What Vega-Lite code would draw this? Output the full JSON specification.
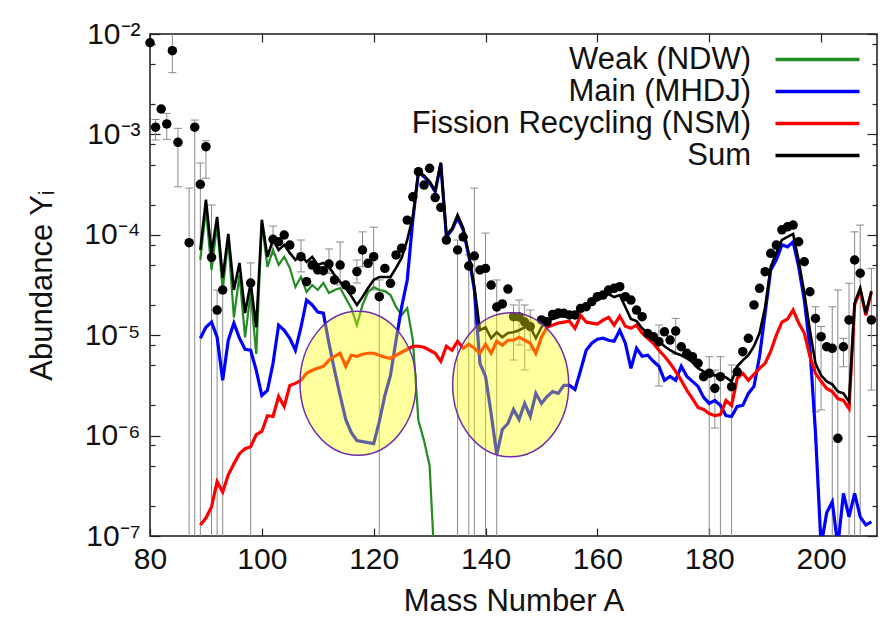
{
  "$schema": "https://vega.github.io/schema/vega-lite/v6.json",
  "width": 727,
  "height": 502,
  "autosize": {"type": "none"},
  "padding": {"left": 150, "top": 34, "right": 9, "bottom": 87},
  "background": "white",
  "config": {
    "font": "Liberation Sans",
    "view": {"stroke": "#1a1a1a", "strokeWidth": 1.5},
    "axis": {"domain": false, "grid": false, "labelFont": "Liberation Sans", "labelFontSize": 30, "labelColor": "#111111", "titleFont": "Liberation Sans", "titleFontSize": 31, "titleFontWeight": "normal", "titleColor": "#111111", "tickColor": "#222222", "tickWidth": 1.2, "labelOverlap": false, "labelFlush": false, "labelBound": false}
  },
  "datasets": {
    "curves": [
      {"A":89,"weak":5.62e-5,"main":9.33e-6,"fission":1.29e-7,"sum":7.08e-5},
      {"A":90,"weak":1.78e-4,"main":1.20e-5,"fission":1.51e-7,"sum":2.24e-4},
      {"A":91,"weak":4.47e-5,"main":1.35e-5,"fission":1.95e-7,"sum":6.61e-5},
      {"A":92,"weak":1.26e-4,"main":9.55e-6,"fission":3.47e-7,"sum":1.51e-4},
      {"A":93,"weak":2.82e-5,"main":3.55e-6,"fission":2.75e-7,"sum":3.72e-5},
      {"A":94,"weak":8.91e-5,"main":8.91e-6,"fission":4.07e-7,"sum":1.02e-4},
      {"A":95,"weak":1.5e-5,"main":1.32e-5,"fission":5.25e-7,"sum":2.82e-5},
      {"A":96,"weak":3.98e-5,"main":9.33e-6,"fission":6.61e-7,"sum":5.25e-5},
      {"A":97,"weak":9.5e-6,"main":7.24e-6,"fission":7.41e-7,"sum":1.66e-5},
      {"A":98,"weak":2.63e-5,"main":7.08e-6,"fission":7.76e-7,"sum":3.31e-5},
      {"A":99,"weak":6.5e-6,"main":4.47e-6,"fission":1.02e-6,"sum":1.20e-5},
      {"A":100,"weak":1.3e-4,"main":2.51e-6,"fission":1.10e-6,"sum":1.41e-4},
      {"A":101,"weak":4.8e-5,"main":2.82e-6,"fission":1.58e-6,"sum":6.03e-5},
      {"A":102,"weak":7.08e-5,"main":5.25e-6,"fission":1.55e-6,"sum":8.91e-5},
      {"A":103,"weak":5.01e-5,"main":1.26e-5,"fission":2.45e-6,"sum":7.08e-5},
      {"A":104,"weak":6.03e-5,"main":1.12e-5,"fission":1.95e-6,"sum":7.94e-5},
      {"A":105,"weak":4.68e-5,"main":9.33e-6,"fission":3.16e-6,"sum":6.61e-5},
      {"A":106,"weak":3.02e-5,"main":7.08e-6,"fission":3.31e-6,"sum":5.62e-5},
      {"A":107,"weak":3.80e-5,"main":1.20e-5,"fission":3.55e-6,"sum":6.31e-5},
      {"A":108,"weak":2.69e-5,"main":2.24e-5,"fission":4.17e-6,"sum":5.37e-5},
      {"A":109,"weak":3.16e-5,"main":2.00e-5,"fission":4.47e-6,"sum":6.03e-5},
      {"A":110,"weak":2.82e-5,"main":1.70e-5,"fission":4.68e-6,"sum":5.01e-5},
      {"A":111,"weak":3.31e-5,"main":1.66e-5,"fission":4.90e-6,"sum":5.25e-5},
      {"A":112,"weak":2.63e-5,"main":8.32e-6,"fission":5.62e-6,"sum":4.79e-5},
      {"A":113,"weak":2.82e-5,"main":4.47e-6,"fission":6.17e-6,"sum":3.98e-5},
      {"A":114,"weak":2.95e-5,"main":2.51e-6,"fission":6.61e-6,"sum":3.39e-5},
      {"A":115,"weak":2.34e-5,"main":1.45e-6,"fission":4.90e-6,"sum":2.95e-5},
      {"A":116,"weak":1.86e-5,"main":1.07e-6,"fission":6.31e-6,"sum":2.45e-5},
      {"A":117,"weak":1.26e-5,"main":8.91e-7,"fission":6.17e-6,"sum":2.00e-5},
      {"A":118,"weak":2.00e-5,"main":8.71e-7,"fission":6.46e-6,"sum":2.40e-5},
      {"A":119,"weak":2.69e-5,"main":8.51e-7,"fission":6.61e-6,"sum":2.95e-5},
      {"A":120,"weak":3.02e-5,"main":8.32e-7,"fission":6.61e-6,"sum":3.55e-5},
      {"A":121,"weak":2.82e-5,"main":1.38e-6,"fission":6.31e-6,"sum":3.80e-5},
      {"A":122,"weak":2.75e-5,"main":2.51e-6,"fission":6.03e-6,"sum":3.80e-5},
      {"A":123,"weak":2.51e-5,"main":3.98e-6,"fission":5.89e-6,"sum":3.80e-5},
      {"A":124,"weak":1.91e-5,"main":8.91e-6,"fission":6.31e-6,"sum":4.68e-5},
      {"A":125,"weak":1.58e-5,"main":1.91e-5,"fission":6.76e-6,"sum":5.89e-5},
      {"A":126,"weak":1.86e-5,"main":3.55e-5,"fission":7.24e-6,"sum":8.91e-5},
      {"A":127,"weak":8.91e-6,"main":1.41e-4,"fission":7.76e-6,"sum":1.51e-4},
      {"A":128,"weak":1.41e-6,"main":4.17e-4,"fission":7.76e-6,"sum":4.27e-4},
      {"A":129,"weak":8.91e-7,"main":3.80e-4,"fission":7.59e-6,"sum":3.89e-4},
      {"A":130,"weak":5.01e-7,"main":3.31e-4,"fission":7.08e-6,"sum":3.39e-4},
      {"A":131,"weak":3.98e-8,"main":2.69e-4,"fission":6.61e-6,"sum":2.75e-4},
      {"A":132,"main":5.13e-4,"fission":5.50e-6,"sum":5.25e-4},
      {"A":133,"main":9.55e-5,"fission":7.76e-6,"sum":1.00e-4},
      {"A":134,"main":1.12e-4,"fission":7.08e-6,"sum":1.15e-4},
      {"A":135,"main":1.48e-4,"fission":8.71e-6,"sum":1.58e-4},
      {"A":136,"main":1.12e-4,"fission":7.41e-6,"sum":1.17e-4},
      {"A":137,"main":6.17e-5,"fission":8.13e-6,"sum":6.46e-5},
      {"A":138,"main":2.82e-5,"fission":7.41e-6,"sum":3.02e-5},
      {"A":139,"main":5.25e-6,"fission":6.61e-6,"sum":1.12e-5},
      {"A":140,"main":3.89e-6,"fission":8.13e-6,"sum":1.20e-5},
      {"A":141,"main":1.66e-6,"fission":6.61e-6,"sum":9.33e-6},
      {"A":142,"main":6.46e-7,"fission":8.71e-6,"sum":1.07e-5},
      {"A":143,"main":1.15e-6,"fission":7.94e-6,"sum":9.55e-6},
      {"A":144,"main":1.32e-6,"fission":8.91e-6,"sum":1.05e-5},
      {"A":145,"main":1.82e-6,"fission":8.91e-6,"sum":1.07e-5},
      {"A":146,"main":1.45e-6,"fission":9.55e-6,"sum":1.12e-5},
      {"A":147,"main":2.09e-6,"fission":8.91e-6,"sum":1.20e-5},
      {"A":148,"main":1.55e-6,"fission":8.32e-6,"sum":1.20e-5},
      {"A":149,"main":2.63e-6,"fission":6.61e-6,"sum":9.33e-6},
      {"A":150,"main":2.09e-6,"fission":9.55e-6,"sum":1.20e-5},
      {"A":151,"main":2.45e-6,"fission":1.20e-5,"sum":1.41e-5},
      {"A":152,"main":2.75e-6,"fission":1.26e-5,"sum":1.45e-5},
      {"A":153,"main":2.63e-6,"fission":1.32e-5,"sum":1.51e-5},
      {"A":154,"main":3.16e-6,"fission":1.35e-5,"sum":1.58e-5},
      {"A":155,"main":3.16e-6,"fission":1.38e-5,"sum":1.58e-5},
      {"A":156,"main":2.88e-6,"fission":1.17e-5,"sum":1.66e-5},
      {"A":157,"main":4.47e-6,"fission":1.58e-5,"sum":1.82e-5},
      {"A":158,"main":7.08e-6,"fission":1.35e-5,"sum":1.95e-5},
      {"A":159,"main":8.32e-6,"fission":1.32e-5,"sum":2.14e-5},
      {"A":160,"main":9.12e-6,"fission":1.29e-5,"sum":2.24e-5},
      {"A":161,"main":9.33e-6,"fission":1.41e-5,"sum":2.40e-5},
      {"A":162,"main":8.91e-6,"fission":1.51e-5,"sum":2.57e-5},
      {"A":163,"main":8.71e-6,"fission":1.26e-5,"sum":2.40e-5},
      {"A":164,"main":1.12e-5,"fission":1.55e-5,"sum":2.51e-5},
      {"A":165,"main":8.32e-6,"fission":1.23e-5,"sum":1.91e-5},
      {"A":166,"main":4.68e-6,"fission":1.17e-5,"sum":1.45e-5},
      {"A":167,"main":7.41e-6,"fission":1.26e-5,"sum":1.38e-5},
      {"A":168,"main":6.17e-6,"fission":1.05e-5,"sum":1.17e-5},
      {"A":169,"main":6.31e-6,"fission":9.33e-6,"sum":1.05e-5},
      {"A":170,"main":5.50e-6,"fission":8.32e-6,"sum":9.77e-6},
      {"A":171,"main":4.90e-6,"fission":7.08e-6,"sum":8.71e-6},
      {"A":172,"main":3.55e-6,"fission":6.17e-6,"sum":7.76e-6},
      {"A":173,"main":3.89e-6,"fission":5.25e-6,"sum":7.08e-6},
      {"A":174,"main":3.55e-6,"fission":4.37e-6,"sum":6.61e-6},
      {"A":175,"main":4.90e-6,"fission":3.55e-6,"sum":6.31e-6},
      {"A":176,"main":3.89e-6,"fission":2.82e-6,"sum":5.89e-6},
      {"A":177,"main":3.47e-6,"fission":2.34e-6,"sum":5.37e-6},
      {"A":178,"main":3.09e-6,"fission":1.91e-6,"sum":4.68e-6},
      {"A":179,"main":2.40e-6,"fission":1.82e-6,"sum":4.37e-6},
      {"A":180,"main":2.09e-6,"fission":1.66e-6,"sum":4.07e-6},
      {"A":181,"main":2.24e-6,"fission":1.58e-6,"sum":3.98e-6},
      {"A":182,"main":2.00e-6,"fission":1.62e-6,"sum":3.98e-6},
      {"A":183,"main":1.58e-6,"fission":2.24e-6,"sum":3.80e-6},
      {"A":184,"main":1.55e-6,"fission":2.00e-6,"sum":3.47e-6},
      {"A":185,"main":1.95e-6,"fission":3.72e-6,"sum":4.90e-6},
      {"A":186,"main":2.00e-6,"fission":4.17e-6,"sum":5.62e-6},
      {"A":187,"main":2.63e-6,"fission":3.55e-6,"sum":6.31e-6},
      {"A":188,"main":3.09e-6,"fission":4.07e-6,"sum":7.76e-6},
      {"A":189,"main":6.17e-6,"fission":4.68e-6,"sum":1.05e-5},
      {"A":190,"main":1.66e-5,"fission":5.25e-6,"sum":1.91e-5},
      {"A":191,"main":4.47e-5,"fission":6.92e-6,"sum":4.79e-5},
      {"A":192,"main":5.62e-5,"fission":1.00e-5,"sum":6.61e-5},
      {"A":193,"main":7.94e-5,"fission":1.35e-5,"sum":8.91e-5},
      {"A":194,"main":7.59e-5,"fission":1.45e-5,"sum":9.55e-5},
      {"A":195,"main":8.51e-5,"fission":1.78e-5,"sum":1.02e-4},
      {"A":196,"main":4.79e-5,"fission":1.32e-5,"sum":5.50e-5},
      {"A":197,"main":2.24e-5,"fission":1.05e-5,"sum":2.63e-5},
      {"A":198,"main":7.5e-6,"fission":6.17e-6,"sum":1.12e-5},
      {"A":199,"main":1.07e-6,"fission":4.17e-6,"sum":5.25e-6},
      {"A":200,"main":7.94e-8,"fission":3.47e-6,"sum":3.98e-6},
      {"A":201,"main":1.70e-7,"fission":2.95e-6,"sum":3.47e-6},
      {"A":202,"main":2.19e-7,"fission":2.75e-6,"sum":3.24e-6},
      {"A":203,"main":7.94e-8,"fission":2.34e-6,"sum":2.75e-6},
      {"A":204,"main":2.66e-7,"fission":2.24e-6,"sum":2.63e-6},
      {"A":205,"main":1.55e-7,"fission":1.86e-6,"sum":2.19e-6},
      {"A":206,"main":2.66e-7,"fission":2.00e-5,"sum":2.09e-5},
      {"A":207,"main":1.55e-7,"fission":2.82e-5,"sum":2.95e-5},
      {"A":208,"main":1.29e-7,"fission":1.58e-5,"sum":1.66e-5},
      {"A":209,"main":1.38e-7,"fission":2.69e-5,"sum":2.75e-5}
    ],
    "dots": [
      {"A":80,"Y":8.18e-3},
      {"A":81,"Y":1.18e-3,"lo":8.79e-4,"hi":1.41e-3},
      {"A":82,"Y":1.79e-3},
      {"A":83,"Y":1.27e-3,"lo":8.93e-4,"hi":1.62e-3},
      {"A":84,"Y":6.82e-3,"lo":4.12e-3,"hi":1.02e-2},
      {"A":85,"Y":8.34e-4,"lo":3.01e-4,"hi":1.15e-3},
      {"A":87,"Y":8.34e-5,"lo":1e-8,"hi":2.92e-4},
      {"A":88,"Y":1.18e-3,"lo":1e-8,"hi":1.39e-3},
      {"A":89,"Y":3.18e-4,"lo":1e-8,"hi":5.19e-4},
      {"A":90,"Y":7.55e-4,"lo":3.66e-4,"hi":8.65e-4},
      {"A":91,"Y":5.97e-5,"lo":1e-8,"hi":1.98e-4},
      {"A":92,"Y":1.78e-5,"lo":1e-8,"hi":2.82e-5},
      {"A":93,"Y":2.82e-5,"lo":1e-8,"hi":4.47e-5},
      {"A":98,"Y":3.31e-5,"lo":1e-8,"hi":5.25e-5},
      {"A":102,"Y":9.02e-5,"lo":6.30e-5,"hi":1.22e-4},
      {"A":103,"Y":8.53e-5},
      {"A":104,"Y":9.95e-5},
      {"A":105,"Y":7.91e-5},
      {"A":107,"Y":6.05e-5,"lo":4.27e-5,"hi":8.87e-5},
      {"A":108,"Y":3.41e-5},
      {"A":109,"Y":5.00e-5},
      {"A":110,"Y":4.46e-5},
      {"A":111,"Y":4.39e-5},
      {"A":112,"Y":5.12e-5,"lo":4.13e-5,"hi":7.23e-5},
      {"A":113,"Y":3.55e-5},
      {"A":114,"Y":5.00e-5,"lo":3.16e-5,"hi":8.47e-5},
      {"A":115,"Y":3.16e-5},
      {"A":116,"Y":2.82e-5},
      {"A":117,"Y":4.30e-5,"lo":3.31e-5,"hi":5.61e-5},
      {"A":118,"Y":7.06e-5,"lo":4.81e-5,"hi":1.07e-4},
      {"A":119,"Y":5.20e-5},
      {"A":120,"Y":6.05e-5,"lo":2.82e-5,"hi":1.19e-4},
      {"A":121,"Y":2.42e-5,"lo":1e-8,"hi":3.55e-5},
      {"A":122,"Y":4.63e-5},
      {"A":123,"Y":3.29e-5},
      {"A":124,"Y":6.30e-5},
      {"A":125,"Y":7.35e-5},
      {"A":126,"Y":1.40e-4},
      {"A":127,"Y":2.39e-4},
      {"A":128,"Y":4.25e-4},
      {"A":129,"Y":3.13e-4},
      {"A":130,"Y":4.59e-4},
      {"A":131,"Y":2.35e-4},
      {"A":132,"Y":1.87e-4},
      {"A":133,"Y":8.87e-5},
      {"A":135,"Y":7.06e-5,"lo":1e-8,"hi":8.87e-5},
      {"A":136,"Y":9.51e-5},
      {"A":137,"Y":4.89e-5,"lo":1e-8,"hi":6.31e-5},
      {"A":138,"Y":6.15e-5,"lo":1e-8,"hi":2.92e-4},
      {"A":139,"Y":4.46e-5},
      {"A":140,"Y":4.63e-5,"lo":1e-8,"hi":1.04e-4},
      {"A":141,"Y":3.16e-5},
      {"A":142,"Y":1.91e-5,"lo":1e-8,"hi":3.55e-5},
      {"A":143,"Y":2.05e-5},
      {"A":144,"Y":2.88e-5},
      {"A":145,"Y":1.53e-5,"lo":5.66e-6,"hi":2.0e-5},
      {"A":146,"Y":1.52e-5,"lo":7.98e-6,"hi":2.24e-5},
      {"A":147,"Y":1.35e-5,"lo":4.50e-6,"hi":2.0e-5},
      {"A":148,"Y":1.22e-5,"lo":7.13e-6,"hi":1.78e-5},
      {"A":150,"Y":1.42e-5},
      {"A":151,"Y":1.36e-5},
      {"A":152,"Y":1.61e-5},
      {"A":153,"Y":1.66e-5},
      {"A":154,"Y":1.65e-5},
      {"A":155,"Y":1.59e-5},
      {"A":156,"Y":1.59e-5},
      {"A":157,"Y":1.85e-5},
      {"A":158,"Y":1.92e-5},
      {"A":159,"Y":2.16e-5},
      {"A":160,"Y":2.42e-5},
      {"A":161,"Y":2.51e-5},
      {"A":162,"Y":2.82e-5},
      {"A":163,"Y":2.93e-5},
      {"A":164,"Y":3.04e-5},
      {"A":165,"Y":2.42e-5},
      {"A":166,"Y":2.24e-5},
      {"A":167,"Y":1.78e-5},
      {"A":168,"Y":1.53e-5},
      {"A":169,"Y":1.04e-5},
      {"A":170,"Y":9.66e-6},
      {"A":171,"Y":8.61e-6,"lo":3.12e-6,"hi":1.26e-5},
      {"A":172,"Y":1.08e-5},
      {"A":173,"Y":8.95e-6},
      {"A":174,"Y":1.10e-5,"lo":6.50e-6,"hi":1.47e-5},
      {"A":175,"Y":7.67e-6},
      {"A":176,"Y":6.60e-6},
      {"A":177,"Y":6.11e-6},
      {"A":178,"Y":5.25e-6},
      {"A":179,"Y":3.86e-6},
      {"A":180,"Y":4.17e-6,"lo":1e-8,"hi":6.11e-6},
      {"A":181,"Y":2.96e-6,"lo":1.19e-6,"hi":4.50e-6},
      {"A":182,"Y":3.86e-6,"lo":1e-8,"hi":6.11e-6},
      {"A":184,"Y":3.07e-6,"lo":1e-8,"hi":5.05e-6},
      {"A":185,"Y":4.32e-6},
      {"A":186,"Y":6.85e-6},
      {"A":187,"Y":9.31e-6},
      {"A":188,"Y":2.00e-5},
      {"A":189,"Y":2.93e-5},
      {"A":190,"Y":4.29e-5},
      {"A":191,"Y":6.54e-5},
      {"A":192,"Y":7.91e-5},
      {"A":193,"Y":1.12e-4},
      {"A":194,"Y":1.20e-4},
      {"A":195,"Y":1.25e-4},
      {"A":196,"Y":8.53e-5},
      {"A":197,"Y":5.39e-5},
      {"A":198,"Y":2.71e-5},
      {"A":199,"Y":1.47e-5,"lo":1.73e-6,"hi":1.92e-5},
      {"A":200,"Y":9.66e-6,"lo":1.80e-6,"hi":1.22e-5},
      {"A":201,"Y":7.67e-6},
      {"A":202,"Y":7.40e-6,"lo":1e-8,"hi":1.92e-5},
      {"A":203,"Y":9.40e-7,"lo":1e-8,"hi":2.82e-5},
      {"A":204,"Y":7.67e-6,"lo":4.85e-6,"hi":9.31e-6},
      {"A":205,"Y":1.42e-5,"lo":1e-8,"hi":3.29e-5},
      {"A":206,"Y":5.61e-5,"lo":1e-8,"hi":1.07e-4},
      {"A":207,"Y":4.14e-5,"lo":1e-8,"hi":1.25e-4},
      {"A":209,"Y":1.42e-5,"lo":2.84e-6,"hi":4.63e-5}
    ],
    "ellipses": [
      {"A":117.2,"Y":3.32e-6},
      {"A":144.5,"Y":3.21e-6}
    ]
  },
  "layer": [
    {
      "data": {"name": "dots"},
      "transform": [{"filter": "isValid(datum.hi)"}],
      "mark": {"type": "rule", "color": "#8a8a8a", "strokeWidth": 1, "clip": true},
      "encoding": {
        "x": {"field": "A", "type": "quantitative", "scale": {"domain": [80, 210], "nice": false, "zero": false}, "axis": null},
        "y": {"field": "lo", "type": "quantitative", "scale": {"type": "log", "domain": [1e-7, 1e-2], "nice": false}, "axis": null},
        "y2": {"field": "hi"}
      }
    },
    {
      "data": {"name": "dots"},
      "transform": [{"filter": "isValid(datum.hi)"}],
      "mark": {"type": "tick", "orient": "horizontal", "color": "#8a8a8a", "size": 8, "thickness": 1, "clip": true, "opacity": 1},
      "encoding": {
        "x": {"field": "A", "type": "quantitative", "axis": null},
        "y": {"field": "hi", "type": "quantitative", "axis": null}
      }
    },
    {
      "data": {"name": "dots"},
      "transform": [{"filter": "isValid(datum.lo)"}],
      "mark": {"type": "tick", "orient": "horizontal", "color": "#8a8a8a", "size": 8, "thickness": 1, "clip": true, "opacity": 1},
      "encoding": {
        "x": {"field": "A", "type": "quantitative", "axis": null},
        "y": {"field": "lo", "type": "quantitative", "axis": null}
      }
    },
    {
      "data": {"name": "curves"},
      "transform": [{"filter": "isValid(datum.weak)"}],
      "mark": {"type": "line", "strokeWidth": 2.2, "clip": true},
      "encoding": {
        "x": {"field": "A", "type": "quantitative", "axis": null},
        "y": {"field": "weak", "type": "quantitative", "axis": null},
        "color": {
          "datum": "Weak (NDW)", "type": "nominal",
          "scale": {"domain": ["Weak (NDW)", "Main (MHDJ)", "Fission Recycling (NSM)", "Sum"], "range": ["#228b22", "#0000ff", "#ff0000", "#000000"]},
          "legend": {"orient": "none", "legendX": 652, "legendY": 10, "title": null, "symbolType": "M -4,0 L 4,0", "symbolSize": 441, "symbolStrokeWidth": 3.5, "labelFontSize": 31, "labelFont": "Liberation Sans", "labelColor": "#111111", "labelAlign": "right", "labelOffset": -82, "rowPadding": 0, "padding": 0, "labelLimit": 500}
        }
      }
    },
    {
      "data": {"name": "curves"},
      "mark": {"type": "line", "strokeWidth": 3.2, "clip": true},
      "encoding": {
        "x": {"field": "A", "type": "quantitative", "axis": null},
        "y": {"field": "main", "type": "quantitative", "axis": null},
        "color": {"datum": "Main (MHDJ)", "type": "nominal"}
      }
    },
    {
      "data": {"name": "curves"},
      "mark": {"type": "line", "strokeWidth": 3.2, "clip": true},
      "encoding": {
        "x": {"field": "A", "type": "quantitative", "axis": null},
        "y": {"field": "fission", "type": "quantitative", "axis": null},
        "color": {"datum": "Fission Recycling (NSM)", "type": "nominal"}
      }
    },
    {
      "data": {"name": "curves"},
      "mark": {"type": "line", "strokeWidth": 2.6, "clip": true},
      "encoding": {
        "x": {"field": "A", "type": "quantitative", "axis": null},
        "y": {"field": "sum", "type": "quantitative", "axis": null},
        "color": {"datum": "Sum", "type": "nominal"}
      }
    },
    {
      "data": {"name": "dots"},
      "mark": {"type": "point", "filled": true, "color": "#000000", "size": 90, "opacity": 1, "clip": false},
      "encoding": {
        "x": {"field": "A", "type": "quantitative", "axis": {"orient": "bottom", "values": [80, 100, 120, 140, 160, 180, 200], "tickSize": -8, "labelPadding": 16, "title": "Mass Number A", "titlePadding": 12}},
        "y": {"field": "Y", "type": "quantitative", "axis": {
          "orient": "left",
          "values": [1e-7, 2e-7, 5e-7, 8e-7, 1e-6, 2e-6, 5e-6, 8e-6, 1e-5, 2e-5, 5e-5, 8e-5, 1e-4, 2e-4, 5e-4, 8e-4, 1e-3, 2e-3, 5e-3, 8e-3, 1e-2],
          "labelExpr": "abs(log(datum.value)/LN10 - round(log(datum.value)/LN10)) < 0.01 ? '10' + ['⁻²','⁻³','⁻⁴','⁻⁵','⁻⁶','⁻⁷'][-2 - round(log(datum.value)/LN10)] : ''",
          "tickSize": {"condition": {"test": "abs(log(datum.value)/LN10 - round(log(datum.value)/LN10)) < 0.01", "value": -10}, "value": -5},
          "labelPadding": 20,
          "title": "Abundance Yᵢ",
          "titlePadding": 25
        }}
      }
    },
    {
      "data": {"name": "ellipses"},
      "mark": {"type": "point", "shape": "M -0.806,0 A 0.806,1 0 1,0 0.806,0 A 0.806,1 0 1,0 -0.806,0 Z", "size": 20736, "filled": true, "fill": "#ffff00", "fillOpacity": 0.38, "stroke": "#6f2da8", "strokeWidth": 1.5, "strokeOpacity": 1, "opacity": 1},
      "encoding": {
        "x": {"field": "A", "type": "quantitative", "axis": {"orient": "top", "values": [80, 100, 120, 140, 160, 180, 200], "tickSize": -8, "labels": false, "title": null}},
        "y": {"field": "Y", "type": "quantitative", "axis": {
          "orient": "right",
          "values": [1e-7, 2e-7, 5e-7, 8e-7, 1e-6, 2e-6, 5e-6, 8e-6, 1e-5, 2e-5, 5e-5, 8e-5, 1e-4, 2e-4, 5e-4, 8e-4, 1e-3, 2e-3, 5e-3, 8e-3, 1e-2],
          "tickSize": {"condition": {"test": "abs(log(datum.value)/LN10 - round(log(datum.value)/LN10)) < 0.01", "value": -10}, "value": -5},
          "labels": false,
          "title": null
        }}
      }
    }
  ],
  "resolve": {"axis": {"x": "independent", "y": "independent"}}
}
